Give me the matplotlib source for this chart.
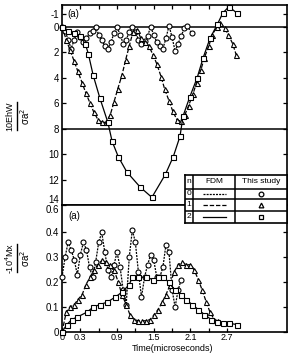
import matplotlib
matplotlib.use("Agg")
import matplotlib.pyplot as plt
from matplotlib.lines import Line2D

plt.rcParams['font.family'] = ['Liberation Sans', 'DejaVu Sans']

# top panel: 10EhW / sigma a^2 (inverted axis)
t_e0 = [0.00, 0.05, 0.10, 0.15, 0.20, 0.25, 0.30, 0.35, 0.40, 0.45, 0.50, 0.55, 0.60, 0.65,
        0.70, 0.75, 0.80, 0.85, 0.90, 0.95, 1.00, 1.05, 1.10, 1.15, 1.20, 1.25, 1.30, 1.35,
        1.40, 1.45, 1.50, 1.55, 1.60, 1.65, 1.70, 1.75, 1.80, 1.85, 1.90, 1.95, 2.00, 2.05, 2.12]
e0 = [0.0, 0.3, 1.0, 1.7, 1.0, 0.4, 0.8, 1.2, 0.9, 0.5, 0.3, 0.0, 0.6, 1.0,
      1.5, 1.7, 1.2, 0.5, 0.0, 0.6, 1.3, 1.0, 0.4, 0.0, 0.4, 1.0, 1.3, 1.1,
      0.7, 0.0, 0.6, 1.2, 1.5, 1.7, 0.9, -0.1, 0.8, 1.9, 1.3, 0.7, 0.1, -0.1, 0.5]

t_e1 = [0.00, 0.07, 0.13, 0.20, 0.26, 0.33, 0.39, 0.46, 0.52, 0.59, 0.66, 0.72, 0.79, 0.85,
        0.91, 0.98, 1.04, 1.10, 1.16, 1.23, 1.29, 1.36, 1.42, 1.49, 1.55, 1.62, 1.68, 1.75,
        1.81, 1.88, 1.94, 2.01, 2.07, 2.14, 2.20, 2.27, 2.33, 2.40, 2.46, 2.53, 2.59, 2.66,
        2.72, 2.79, 2.85]
e1 = [0.0, 1.0, 1.8, 2.7, 3.5, 4.4, 5.2, 6.0, 6.7, 7.3, 7.5, 7.5, 6.9, 5.9,
      4.9, 3.8, 2.6, 1.5, 0.4, 0.2, 0.9, 1.2, 1.5, 2.2, 2.9, 3.9, 4.9, 5.8,
      6.6, 7.3, 7.4, 6.9, 6.2, 5.3, 4.4, 3.4, 2.4, 1.5, 0.6, 0.0, -0.3, 0.1,
      0.6, 1.3, 2.2]

t_e2 = [0.00, 0.10, 0.20, 0.29, 0.38, 0.43, 0.51, 0.62, 0.75, 0.82, 0.92, 1.06, 1.28, 1.47,
        1.69, 1.82, 1.93, 1.98, 2.09, 2.21, 2.31, 2.42, 2.54, 2.63, 2.73, 2.86]
e2 = [0.0, 0.3, 0.5, 0.7, 1.3, 2.1, 3.8, 5.6, 7.5, 9.0, 10.2, 11.4, 12.6, 13.4,
      11.6, 10.2, 8.6, 7.0, 5.5, 4.0, 2.4, 0.9, -0.2, -1.1, -1.6, -1.1]

# bottom panel: -10^4 Mx / sigma a^2
t_m0 = [0.00, 0.05, 0.10, 0.15, 0.20, 0.25, 0.30, 0.35, 0.40, 0.45, 0.50, 0.55, 0.60, 0.65,
        0.70, 0.75, 0.80, 0.85, 0.90, 0.95, 1.00, 1.05, 1.10, 1.15, 1.20, 1.25, 1.30, 1.35,
        1.40, 1.45, 1.50, 1.55, 1.60, 1.65, 1.70, 1.75, 1.80, 1.85, 1.90, 1.95]
m0 = [0.22, 0.30, 0.36, 0.33, 0.29, 0.23, 0.31, 0.36, 0.33, 0.26, 0.22, 0.28, 0.36, 0.40,
      0.32, 0.25, 0.22, 0.27, 0.32, 0.26, 0.17, 0.11, 0.30, 0.41, 0.36, 0.24, 0.14, 0.22,
      0.27, 0.31, 0.29, 0.22, 0.22, 0.26, 0.35, 0.32, 0.17, 0.10, 0.17, 0.21]

t_m1 = [0.00, 0.07, 0.13, 0.20, 0.26, 0.33, 0.39, 0.46, 0.52, 0.59, 0.66, 0.72, 0.79, 0.85,
        0.92, 0.98, 1.05, 1.11, 1.18, 1.25, 1.31, 1.38, 1.44, 1.51, 1.57, 1.64, 1.70, 1.77,
        1.83, 1.90, 1.97, 2.03, 2.10, 2.16, 2.23, 2.29, 2.36, 2.42, 2.49, 2.55]
m1 = [0.0, 0.08, 0.10, 0.11, 0.13, 0.15, 0.19, 0.22, 0.25, 0.27, 0.29, 0.28, 0.27, 0.25,
      0.20, 0.15, 0.11, 0.07, 0.05, 0.045, 0.045, 0.045, 0.05, 0.07, 0.09, 0.12, 0.15, 0.19,
      0.24, 0.27, 0.28, 0.27, 0.27, 0.25, 0.21, 0.17, 0.12, 0.08, 0.05, 0.045]

t_m2 = [0.00, 0.08, 0.16, 0.25, 0.41, 0.51, 0.62, 0.74, 0.87, 0.98, 1.10, 1.15, 1.25, 1.38,
        1.49, 1.57, 1.65, 1.75, 1.84, 1.95, 2.03, 2.13, 2.23, 2.33, 2.44, 2.54, 2.64, 2.73, 2.86]
m2 = [0.0, 0.03, 0.05, 0.06, 0.08, 0.10, 0.11, 0.12, 0.14, 0.16, 0.19, 0.22, 0.22, 0.22,
      0.21, 0.22, 0.22, 0.20, 0.17, 0.15, 0.13, 0.11, 0.09, 0.07, 0.05, 0.04, 0.035, 0.035, 0.03]

e_ticks = [-1, 0, 2, 4, 6, 8, 10, 12, 14]
m_ticks = [0, 0.1, 0.2, 0.3, 0.4, 0.51]
m_ticklabels = ['0', '0.1', '0.2', '0.3', '0.4', '0.6']
t_ticks = [0, 0.3, 0.6, 0.9, 1.2, 1.5, 1.8, 2.1, 2.4, 2.7]
t_ticklabels = ['0', '0.3', '', '0.9', '', '1.5', '', '2.1', '', '2.7']

styles = [
    dict(ls=(0, (1.6, 0.9)), marker='o'),
    dict(ls=(0, (3.5, 1.5)), marker='^'),
    dict(ls='-', marker='s'),
]

W, H = 290, 353
fig = plt.figure(figsize=(2.9, 3.53), dpi=100)
ax1 = fig.add_axes([62 / W, 1 - 205 / H, 225 / W, 200 / H])
ax2 = fig.add_axes([62 / W, 1 - 332 / H, 225 / W, 127 / H])


def draw(ax, series):
    for (t, v), st in zip(series, styles):
        ax.plot(t, v, color='black', lw=0.9, ls=st['ls'], marker=st['marker'],
                ms=3.6, mfc='white', mec='black', mew=0.8, clip_on=False, zorder=3)


draw(ax1, [(t_e0, e0), (t_e1, e1), (t_e2, e2)])
draw(ax2, [(t_m0, m0), (t_m1, m1), (t_m2, m2)])

ax1.axhline(0, color='black', lw=1.1, zorder=2)
ax1.axhline(8, color='black', lw=1.1, zorder=2)

for ax in (ax1, ax2):
    ax.set_xlim(0, 3.68)
    for s in ax.spines.values():
        s.set_linewidth(1.2)
    ax.tick_params(direction='in', length=3, width=0.9, labelsize=7, pad=2,
                   left=True, right=True, top=True, bottom=True)

ax1.set_ylim(13.96, -1.73)
ax1.set_yticks(e_ticks)
ax1.set_yticklabels([str(v) for v in e_ticks])
ax1.get_yticklabels()[-1].set_va('bottom')
ax1.set_xticks(t_ticks)
ax1.tick_params(labelbottom=False, bottom=False, labelright=False)

ax2.set_ylim(0, 0.51)
ax2.set_yticks(m_ticks)
ax2.set_yticklabels(m_ticklabels)
ax2.get_yticklabels()[-1].set_va('top')
ax2.set_xticks(t_ticks)
ax2.set_xticklabels(t_ticklabels)
ax2.tick_params(top=False, labelright=False)
ax2.tick_params(axis='x', labelsize=6.5, pad=1)

ax1.text(0.022, 0.955, '(a)', transform=ax1.transAxes, fontsize=7, va='center')
ax2.text(0.027, 0.91, '(a)', transform=ax2.transAxes, fontsize=7, va='center')

# y-axis fraction labels
for num, den, yc in [('10EhW', 'σa$^2$', 116), ('-10$^4$Mx', 'σa$^2$', 258)]:
    fig.text(10 / W, 1 - yc / H, num, rotation=90, fontsize=6.5, ha='center', va='center')
    fig.text(25 / W, 1 - yc / H, den, rotation=90, fontsize=7, ha='center', va='center')
    fig.add_artist(Line2D([17 / W, 17 / W], [1 - (yc - 14) / H, 1 - (yc + 14) / H],
                          color='black', lw=1.0, transform=fig.transFigure))

fig.text(172 / W, 1 - 348.5 / H, 'Time(microseconds)', fontsize=6.5, ha='center', va='center')

# legend table
tx0, tx1, ty0, ty1 = 185, 287, 175, 223
tab = fig.add_axes([tx0 / W, 1 - ty1 / H, (tx1 - tx0) / W, (ty1 - ty0) / H])
tab.set_xlim(tx0, tx1)
tab.set_ylim(ty1, ty0)
tab.set_facecolor('white')
for s in tab.spines.values():
    s.set_linewidth(1.2)
tab.set_xticks([])
tab.set_yticks([])
cols = [193, 235]
rows = [189, 199, 211]
for c in cols:
    tab.axvline(c, color='black', lw=1.1)
for r in rows:
    tab.axhline(r, color='black', lw=1.1)
tab.text(189, 182, 'n', fontsize=6, ha='center', va='center')
tab.text(214, 182, 'FDM', fontsize=6, ha='center', va='center')
tab.text(261, 182, 'This study', fontsize=6, ha='center', va='center')
row_mid = [194, 205, 217]
for i, (y, st) in enumerate(zip(row_mid, styles)):
    tab.text(189, y, str(i), fontsize=6, ha='center', va='center')
    tab.plot([203, 226], [y, y], color='black', lw=0.9, ls=st['ls'])
    tab.plot([261], [y], marker=st['marker'], ms=3.4, mfc='white', mec='black', mew=0.9)

fig.savefig('out.png', dpi=100)
